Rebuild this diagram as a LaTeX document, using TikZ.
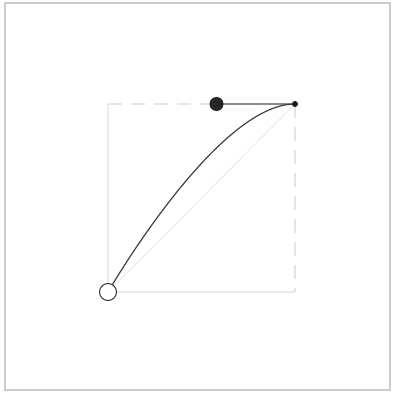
\documentclass[tikz,border=0pt]{standalone}
\begin{document}
\begin{tikzpicture}[x=1pt,y=-1pt,
  frame/.style={draw=black!20,line width=1.3pt},
  guide/.style={draw=black!8,line width=1.3pt},
  guidedash/.style={draw=black!10,line width=1.3pt,dash pattern=on 14pt off 9pt},
  diag/.style={draw=black!8,line width=1pt},
  curveline/.style={draw=black!75,line width=1.2pt},
  handle/.style={draw=black!45,line width=2pt},
  startpt/.style={circle,draw=black!80,fill=white,line width=1pt,minimum size=17pt,inner sep=0pt},
  ctrlpt/.style={circle,fill=black!85,minimum size=14pt,inner sep=0pt},
  endpt/.style={circle,fill=black!90,minimum size=6pt,inner sep=0pt}]
\useasboundingbox (0,0) rectangle (393,393);
\draw[frame] (5,3) rectangle (390,390);
\coordinate (P0) at (108,292);
\coordinate (P3) at (295,104);
\coordinate (TL) at (108,104);
\coordinate (BR) at (295,292);
\coordinate (C2) at (216.5,104);
\draw[guide] (TL) -- (P0) -- (BR);
\draw[guidedash] (TL) -- (P3);
\draw[guidedash] (P3) -- (BR);
\draw[diag] (P0) -- (P3);
\draw[handle] (C2) -- (P3);
\draw[curveline] (P0) .. controls (P0) and (C2) .. (P3);
\node[startpt] (s) at (P0) {};
\node[ctrlpt] (c) at (C2) {};
\node[endpt] (e) at (P3) {};
\end{tikzpicture}
\end{document}
